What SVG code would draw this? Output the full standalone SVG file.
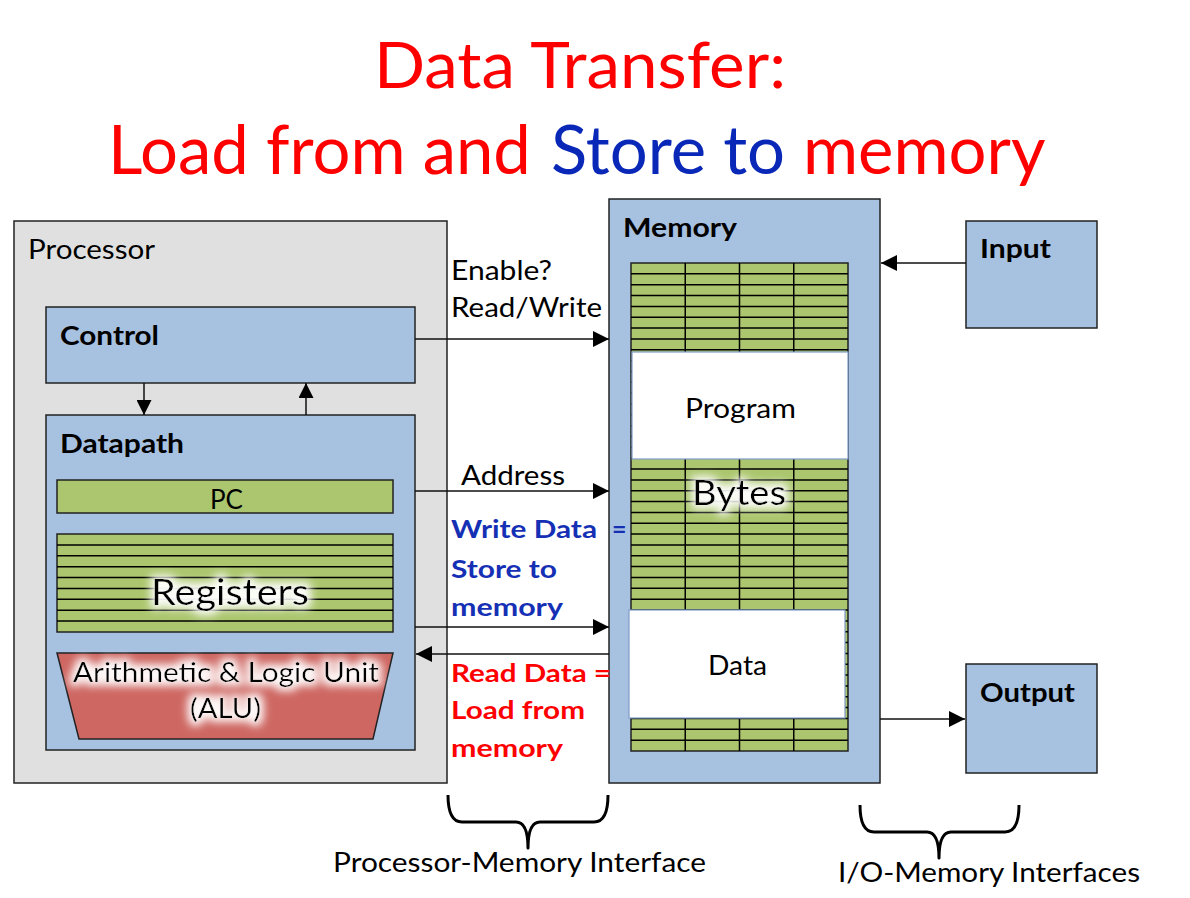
<svg xmlns="http://www.w3.org/2000/svg" width="1190" height="898" viewBox="0 0 1190 898">
<style>
text{font-family:Lato,"Open Sans","Liberation Sans",sans-serif;fill:#000}
.t{font-size:26px}
.b{font-size:26px;font-weight:bold}
.blue{fill:#1530B4;font-weight:bold;font-size:25px}
.red{fill:#FF0000;font-weight:bold;font-size:25px}
.title{font-size:63px}
.title2{font-size:67px}
.box{fill:#A7C1E0;stroke:#222;stroke-width:1.5}
.proc{fill:#E0E0E0;stroke:#222;stroke-width:1.5}
.green{fill:#ABC66E;stroke:#222;stroke-width:1.5}
.white{fill:#fff;stroke:#7F9CC8;stroke-width:1.2}
.grid{fill:none;stroke:#000;stroke-width:1.5}
.wire{fill:none;stroke:#111;stroke-width:1.5}
.brace{fill:none;stroke:#000;stroke-width:3;stroke-linejoin:round}
</style>
<defs>
<marker id="ah" viewBox="0 0 16 16" refX="16" refY="8" markerWidth="16" markerHeight="16" markerUnits="userSpaceOnUse" orient="auto">
<path d="M0 0 L16 8 L0 16 Z" fill="#000"/>
</marker>
<marker id="ahs" viewBox="0 0 16 16" refX="16" refY="8" markerWidth="15" markerHeight="15" markerUnits="userSpaceOnUse" orient="auto">
<path d="M0 0 L16 8 L0 16 Z" fill="#000"/>
</marker>
<filter id="glow" x="-20%" y="-50%" width="140%" height="200%">
<feMorphology in="SourceAlpha" operator="dilate" radius="4" result="d"/>
<feGaussianBlur in="d" stdDeviation="4" result="bl"/>
<feFlood flood-color="#ffffff" flood-opacity="0.95"/>
<feComposite in2="bl" operator="in" result="g"/>
<feMerge><feMergeNode in="g"/><feMergeNode in="SourceGraphic"/></feMerge>
</filter>
</defs>
<rect width="1190" height="898" fill="#fff"/>

<g id="title">
<text class="title" x="374" y="88" textLength="412" lengthAdjust="spacingAndGlyphs" style="fill:#FF0000">Data Transfer:</text>
<text class="title2" y="174"><tspan x="108" style="fill:#FF0000">Load from and</tspan> <tspan x="551" style="fill:#0A28B8">Store to</tspan> <tspan x="803" style="fill:#FF0000">memory</tspan></text>
</g>

<g id="processor">
<rect class="proc" x="14" y="221" width="433" height="562"/>
<text class="t" x="28" y="259" textLength="127" lengthAdjust="spacingAndGlyphs">Processor</text>
</g>

<g id="control">
<rect class="box" x="46" y="307" width="369" height="76"/>
<text class="b" x="60" y="345" textLength="99" lengthAdjust="spacingAndGlyphs">Control</text>
</g>

<g id="datapath">
<rect class="box" x="46" y="415" width="369" height="335"/>
<text class="b" x="60" y="453" textLength="124" lengthAdjust="spacingAndGlyphs">Datapath</text>
</g>

<g id="pc">
<rect class="green" x="57" y="480" width="336" height="33"/>
<text class="t" x="210" y="509" textLength="33" lengthAdjust="spacingAndGlyphs">PC</text>
</g>

<g id="registers">
<rect class="green" x="57" y="534" width="336" height="98"/>
<path class="grid" d="M57 544.9H393M57 555.8H393M57 566.7H393M57 577.6H393M57 588.4H393M57 599.3H393M57 610.2H393M57 621.1H393"/>
<text x="151" y="605" style="font-size:36px" textLength="158" lengthAdjust="spacingAndGlyphs" filter="url(#glow)">Registers</text>
</g>

<g id="alu">
<polygon points="57,653 393,653 373,739 79,739" fill="#CE6762" stroke="#222" stroke-width="1.5"/>
<text x="73" y="682" style="font-size:27px" textLength="306" lengthAdjust="spacingAndGlyphs" filter="url(#glow)">Arithmetic &amp; Logic Unit</text>
<text x="190" y="718" style="font-size:27px" textLength="71" lengthAdjust="spacingAndGlyphs" filter="url(#glow)">(ALU)</text>
</g>

<g id="memory">
<rect class="box" x="609" y="199" width="271" height="584"/>
<text class="b" x="623" y="237" textLength="114" lengthAdjust="spacingAndGlyphs">Memory</text>
<rect class="green" x="631" y="263" width="217" height="488"/>
<path class="grid" d="M685.25 263V751M739.5 263V751M793.75 263V751M631 273.8H848M631 284.7H848M631 295.5H848M631 306.4H848M631 317.2H848M631 328.1H848M631 338.9H848M631 349.8H848M631 360.6H848M631 371.4H848M631 382.3H848M631 393.1H848M631 404H848M631 414.8H848M631 425.7H848M631 436.5H848M631 447.4H848M631 458.2H848M631 469H848M631 479.9H848M631 490.7H848M631 501.6H848M631 512.4H848M631 523.3H848M631 534.1H848M631 545H848M631 555.8H848M631 566.6H848M631 577.5H848M631 588.3H848M631 599.2H848M631 610H848M631 620.9H848M631 631.7H848M631 642.6H848M631 653.4H848M631 664.2H848M631 675.1H848M631 685.9H848M631 696.8H848M631 707.6H848M631 718.5H848M631 729.3H848M631 740.2H848"/>
<text x="692" y="505" style="font-size:34px" textLength="94" lengthAdjust="spacingAndGlyphs" filter="url(#glow)">Bytes</text>
</g>

<g id="program">
<rect class="white" x="632" y="352" width="216" height="107"/>
<text x="685" y="418" style="font-size:27px" textLength="111" lengthAdjust="spacingAndGlyphs">Program</text>
</g>

<g id="data">
<rect class="white" x="629" y="610" width="216" height="108"/>
<text class="t" x="708" y="675" textLength="59" lengthAdjust="spacingAndGlyphs">Data</text>
</g>

<g id="input">
<rect class="box" x="966" y="221" width="131" height="107"/>
<text class="b" x="980" y="258" textLength="71" lengthAdjust="spacingAndGlyphs">Input</text>
</g>

<g id="output">
<rect class="box" x="966" y="664" width="131" height="109"/>
<text class="b" x="980" y="702" textLength="95" lengthAdjust="spacingAndGlyphs">Output</text>
</g>

<g id="connectors">
<line class="wire" x1="144" y1="383" x2="144" y2="415" marker-end="url(#ahs)"/>
<line class="wire" x1="306" y1="415" x2="306" y2="383" marker-end="url(#ahs)"/>
<line class="wire" x1="415" y1="339" x2="609" y2="339" marker-end="url(#ah)"/>
<line class="wire" x1="415" y1="491" x2="609" y2="491" marker-end="url(#ah)"/>
<line class="wire" x1="415" y1="627" x2="609" y2="627" marker-end="url(#ah)"/>
<line class="wire" x1="609" y1="654" x2="416" y2="654" marker-end="url(#ah)"/>
<line class="wire" x1="966" y1="263" x2="881" y2="263" marker-end="url(#ah)"/>
<line class="wire" x1="880" y1="719" x2="965" y2="719" marker-end="url(#ah)"/>
</g>

<g id="labels">
<text class="t" x="451" y="280" textLength="101" lengthAdjust="spacingAndGlyphs">Enable?</text>
<text class="t" x="451" y="317" textLength="151" lengthAdjust="spacingAndGlyphs">Read/Write</text>
<text class="t" x="461" y="485" textLength="104" lengthAdjust="spacingAndGlyphs">Address</text>
<text class="blue" y="538"><tspan x="451" textLength="146" lengthAdjust="spacingAndGlyphs">Write Data</tspan><tspan x="612">=</tspan></text>
<text class="blue" x="451" y="578" textLength="106" lengthAdjust="spacingAndGlyphs">Store to</text>
<text class="blue" x="451" y="616" textLength="112" lengthAdjust="spacingAndGlyphs">memory</text>
<text class="red" x="451" y="682" textLength="160" lengthAdjust="spacingAndGlyphs">Read Data =</text>
<text class="red" x="451" y="719" textLength="134" lengthAdjust="spacingAndGlyphs">Load from</text>
<text class="red" x="451" y="757" textLength="112" lengthAdjust="spacingAndGlyphs">memory</text>
</g>

<g id="braces">
<path class="brace" d="M448 795 Q448 822 462 822 H516 Q528 822 528 848 Q528 822 540 822 H594 Q608 822 608 795"/>
<text class="t" x="333" y="872" textLength="373" lengthAdjust="spacingAndGlyphs">Processor-Memory Interface</text>
<path class="brace" d="M860 805 Q860 832 874 832 H927 Q939 832 939 858 Q939 832 951 832 H1005 Q1019 832 1019 805"/>
<text class="t" x="838" y="882" textLength="302" lengthAdjust="spacingAndGlyphs">I/O-Memory Interfaces</text>
</g>
</svg>
